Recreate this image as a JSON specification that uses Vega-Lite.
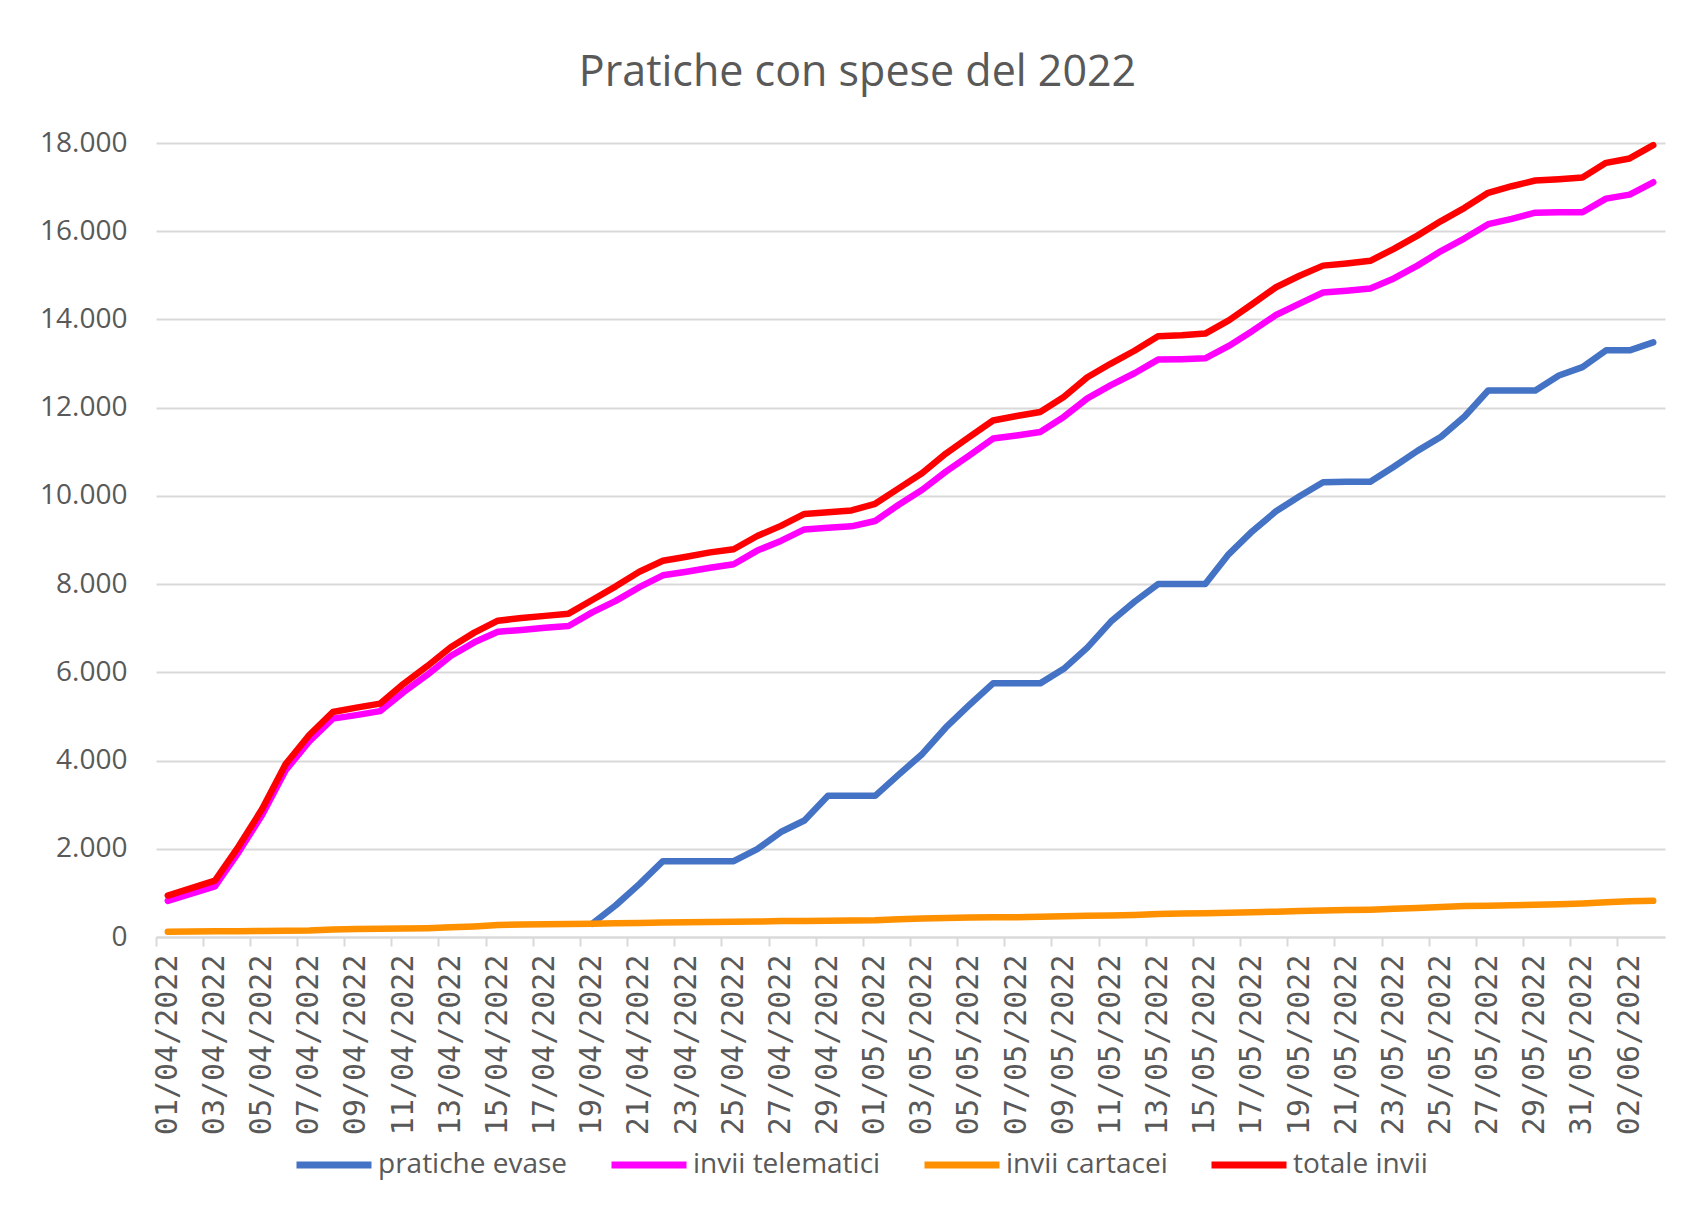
{
  "$schema": "https://vega.github.io/schema/vega-lite/v6.json",
  "width": 1509,
  "height": 794,
  "autosize": {"type": "none"},
  "padding": {"left": 156, "top": 143, "right": 19, "bottom": 270},
  "background": "white",
  "title": {
    "text": "Pratiche con spese del 2022",
    "font": "Open Sans",
    "fontSize": 43,
    "fontWeight": "normal",
    "color": "#595959",
    "anchor": "middle",
    "frame": "group",
    "baseline": "alphabetic",
    "offset": 0,
    "dx": -53
  },
  "data": {
    "values": [
      {"d": "01/04/2022", "pratiche evase": null, "invii telematici": 820, "invii cartacei": 120, "totale invii": 940},
      {"d": "02/04/2022", "pratiche evase": null, "invii telematici": 985, "invii cartacei": 125, "totale invii": 1110},
      {"d": "03/04/2022", "pratiche evase": null, "invii telematici": 1150, "invii cartacei": 130, "totale invii": 1280},
      {"d": "04/04/2022", "pratiche evase": null, "invii telematici": 1920, "invii cartacei": 130, "totale invii": 2050},
      {"d": "05/04/2022", "pratiche evase": null, "invii telematici": 2765, "invii cartacei": 135, "totale invii": 2900},
      {"d": "06/04/2022", "pratiche evase": null, "invii telematici": 3780, "invii cartacei": 140, "totale invii": 3920},
      {"d": "07/04/2022", "pratiche evase": null, "invii telematici": 4435, "invii cartacei": 145, "totale invii": 4580},
      {"d": "08/04/2022", "pratiche evase": null, "invii telematici": 4950, "invii cartacei": 170, "totale invii": 5100},
      {"d": "09/04/2022", "pratiche evase": null, "invii telematici": 5030, "invii cartacei": 180, "totale invii": 5200},
      {"d": "10/04/2022", "pratiche evase": null, "invii telematici": 5120, "invii cartacei": 185, "totale invii": 5290},
      {"d": "11/04/2022", "pratiche evase": null, "invii telematici": 5550, "invii cartacei": 190, "totale invii": 5740},
      {"d": "12/04/2022", "pratiche evase": null, "invii telematici": 5940, "invii cartacei": 200, "totale invii": 6140},
      {"d": "13/04/2022", "pratiche evase": null, "invii telematici": 6370, "invii cartacei": 220, "totale invii": 6570},
      {"d": "14/04/2022", "pratiche evase": null, "invii telematici": 6680, "invii cartacei": 240, "totale invii": 6900},
      {"d": "15/04/2022", "pratiche evase": null, "invii telematici": 6920, "invii cartacei": 270, "totale invii": 7170},
      {"d": "16/04/2022", "pratiche evase": null, "invii telematici": 6960, "invii cartacei": 285, "totale invii": 7230},
      {"d": "17/04/2022", "pratiche evase": null, "invii telematici": 7010, "invii cartacei": 290, "totale invii": 7280},
      {"d": "18/04/2022", "pratiche evase": null, "invii telematici": 7050, "invii cartacei": 295, "totale invii": 7330},
      {"d": "19/04/2022", "pratiche evase": 300, "invii telematici": 7360, "invii cartacei": 300, "totale invii": 7640},
      {"d": "20/04/2022", "pratiche evase": 720, "invii telematici": 7620, "invii cartacei": 310, "totale invii": 7950},
      {"d": "21/04/2022", "pratiche evase": 1200, "invii telematici": 7930, "invii cartacei": 320, "totale invii": 8280},
      {"d": "22/04/2022", "pratiche evase": 1720, "invii telematici": 8200, "invii cartacei": 330, "totale invii": 8530},
      {"d": "23/04/2022", "pratiche evase": 1720, "invii telematici": 8280, "invii cartacei": 335, "totale invii": 8620},
      {"d": "24/04/2022", "pratiche evase": 1720, "invii telematici": 8370, "invii cartacei": 340, "totale invii": 8720},
      {"d": "25/04/2022", "pratiche evase": 1720, "invii telematici": 8450, "invii cartacei": 345, "totale invii": 8790},
      {"d": "26/04/2022", "pratiche evase": 1990, "invii telematici": 8760, "invii cartacei": 350, "totale invii": 9090},
      {"d": "27/04/2022", "pratiche evase": 2380, "invii telematici": 8980, "invii cartacei": 360, "totale invii": 9320},
      {"d": "28/04/2022", "pratiche evase": 2640, "invii telematici": 9240, "invii cartacei": 365, "totale invii": 9590},
      {"d": "29/04/2022", "pratiche evase": 3200, "invii telematici": 9280, "invii cartacei": 370, "totale invii": 9630},
      {"d": "30/04/2022", "pratiche evase": 3200, "invii telematici": 9310, "invii cartacei": 375, "totale invii": 9670},
      {"d": "01/05/2022", "pratiche evase": 3200, "invii telematici": 9430, "invii cartacei": 380, "totale invii": 9820},
      {"d": "02/05/2022", "pratiche evase": 3680, "invii telematici": 9800, "invii cartacei": 400, "totale invii": 10170},
      {"d": "03/05/2022", "pratiche evase": 4150, "invii telematici": 10140, "invii cartacei": 420, "totale invii": 10520},
      {"d": "04/05/2022", "pratiche evase": 4750, "invii telematici": 10550, "invii cartacei": 430, "totale invii": 10960},
      {"d": "05/05/2022", "pratiche evase": 5260, "invii telematici": 10920, "invii cartacei": 440, "totale invii": 11340},
      {"d": "06/05/2022", "pratiche evase": 5750, "invii telematici": 11300, "invii cartacei": 445, "totale invii": 11710},
      {"d": "07/05/2022", "pratiche evase": 5750, "invii telematici": 11370, "invii cartacei": 450, "totale invii": 11810},
      {"d": "08/05/2022", "pratiche evase": 5750, "invii telematici": 11450, "invii cartacei": 460, "totale invii": 11900},
      {"d": "09/05/2022", "pratiche evase": 6080, "invii telematici": 11790, "invii cartacei": 470, "totale invii": 12240},
      {"d": "10/05/2022", "pratiche evase": 6560, "invii telematici": 12210, "invii cartacei": 480, "totale invii": 12690},
      {"d": "11/05/2022", "pratiche evase": 7150, "invii telematici": 12510, "invii cartacei": 490, "totale invii": 13000},
      {"d": "12/05/2022", "pratiche evase": 7600, "invii telematici": 12780, "invii cartacei": 500, "totale invii": 13290},
      {"d": "13/05/2022", "pratiche evase": 8000, "invii telematici": 13090, "invii cartacei": 520, "totale invii": 13620},
      {"d": "14/05/2022", "pratiche evase": 8000, "invii telematici": 13100, "invii cartacei": 530, "totale invii": 13640},
      {"d": "15/05/2022", "pratiche evase": 8000, "invii telematici": 13120, "invii cartacei": 540, "totale invii": 13680},
      {"d": "16/05/2022", "pratiche evase": 8680, "invii telematici": 13400, "invii cartacei": 550, "totale invii": 13980},
      {"d": "17/05/2022", "pratiche evase": 9200, "invii telematici": 13740, "invii cartacei": 560, "totale invii": 14350},
      {"d": "18/05/2022", "pratiche evase": 9650, "invii telematici": 14100, "invii cartacei": 575, "totale invii": 14730},
      {"d": "19/05/2022", "pratiche evase": 9990, "invii telematici": 14360, "invii cartacei": 590, "totale invii": 14990},
      {"d": "20/05/2022", "pratiche evase": 10310, "invii telematici": 14610, "invii cartacei": 600, "totale invii": 15220},
      {"d": "21/05/2022", "pratiche evase": 10320, "invii telematici": 14650, "invii cartacei": 610, "totale invii": 15270},
      {"d": "22/05/2022", "pratiche evase": 10320, "invii telematici": 14700, "invii cartacei": 620, "totale invii": 15330},
      {"d": "23/05/2022", "pratiche evase": 10660, "invii telematici": 14930, "invii cartacei": 640, "totale invii": 15600},
      {"d": "24/05/2022", "pratiche evase": 11020, "invii telematici": 15220, "invii cartacei": 660, "totale invii": 15900},
      {"d": "25/05/2022", "pratiche evase": 11340, "invii telematici": 15550, "invii cartacei": 680, "totale invii": 16230},
      {"d": "26/05/2022", "pratiche evase": 11800, "invii telematici": 15840, "invii cartacei": 700, "totale invii": 16530},
      {"d": "27/05/2022", "pratiche evase": 12390, "invii telematici": 16160, "invii cartacei": 710, "totale invii": 16870},
      {"d": "28/05/2022", "pratiche evase": 12390, "invii telematici": 16280, "invii cartacei": 720, "totale invii": 17020},
      {"d": "29/05/2022", "pratiche evase": 12390, "invii telematici": 16420, "invii cartacei": 730, "totale invii": 17150},
      {"d": "30/05/2022", "pratiche evase": 12730, "invii telematici": 16430, "invii cartacei": 740, "totale invii": 17180},
      {"d": "31/05/2022", "pratiche evase": 12920, "invii telematici": 16430, "invii cartacei": 760, "totale invii": 17220},
      {"d": "01/06/2022", "pratiche evase": 13300, "invii telematici": 16740, "invii cartacei": 790, "totale invii": 17550},
      {"d": "02/06/2022", "pratiche evase": 13300, "invii telematici": 16830, "invii cartacei": 810, "totale invii": 17650},
      {"d": "03/06/2022", "pratiche evase": 13480, "invii telematici": 17110, "invii cartacei": 820, "totale invii": 17950}
    ]
  },
  "transform": [
    {"fold": ["pratiche evase", "invii telematici", "invii cartacei", "totale invii"], "as": ["serie", "valore"]}
  ],
  "mark": {"type": "line", "strokeWidth": 6.5, "strokeJoin": "round", "strokeCap": "round"},
  "encoding": {
    "x": {
      "field": "d",
      "type": "ordinal",
      "sort": null,
      "bandPosition": 0.5,
      "scale": {"type": "band", "paddingInner": 0, "paddingOuter": 0},
      "axis": {
        "title": null,
        "values": ["01/04/2022","03/04/2022","05/04/2022","07/04/2022","09/04/2022","11/04/2022","13/04/2022","15/04/2022","17/04/2022","19/04/2022","21/04/2022","23/04/2022","25/04/2022","27/04/2022","29/04/2022","01/05/2022","03/05/2022","05/05/2022","07/05/2022","09/05/2022","11/05/2022","13/05/2022","15/05/2022","17/05/2022","19/05/2022","21/05/2022","23/05/2022","25/05/2022","27/05/2022","29/05/2022","31/05/2022","02/06/2022"],
        "bandPosition": 0,
        "tickExtra": false,
        "labelOffset": 0,
        "labelAngle": 270,
        "labelFont": "DejaVu Sans Mono",
        "labelFontSize": 30,
        "labelColor": "#595959",
        "labelPadding": 8,
        "labelLimit": 400,
        "labelOverlap": false,
        "domainColor": "#d9d9d9",
        "domainWidth": 2,
        "tickColor": "#d9d9d9",
        "tickWidth": 2,
        "tickSize": 9,
        "grid": false
      }
    },
    "y": {
      "field": "valore",
      "type": "quantitative",
      "scale": {"domain": [0, 18000], "nice": false},
      "axis": {
        "title": null,
        "values": [0, 2000, 4000, 6000, 8000, 10000, 12000, 14000, 16000, 18000],
        "labelExpr": "replace(format(datum.value, ','), ',', '.')",
        "labelFont": "Open Sans",
        "labelFontSize": 28,
        "labelColor": "#595959",
        "labelPadding": 29,
        "domain": false,
        "ticks": false,
        "tickSize": 0,
        "grid": true,
        "gridColor": "#d9d9d9",
        "gridWidth": 2
      }
    },
    "color": {
      "field": "serie",
      "type": "nominal",
      "scale": {
        "domain": ["pratiche evase", "invii telematici", "invii cartacei", "totale invii"],
        "range": ["#4472C4", "#FF00FF", "#FF9100", "#FF0000"]
      },
      "legend": {
        "title": null,
        "orient": "none",
        "legendX": 137,
        "legendY": 981,
        "direction": "horizontal",
        "symbolType": "stroke",
        "symbolSize": 5625,
        "symbolStrokeWidth": 7,
        "labelFont": "Open Sans",
        "labelFontSize": 28,
        "labelColor": "#595959",
        "labelOffset": 3,
        "columnPadding": 29,
        "labelLimit": 400
      }
    }
  },
  "config": {
    "view": {"stroke": null}
  }
}
